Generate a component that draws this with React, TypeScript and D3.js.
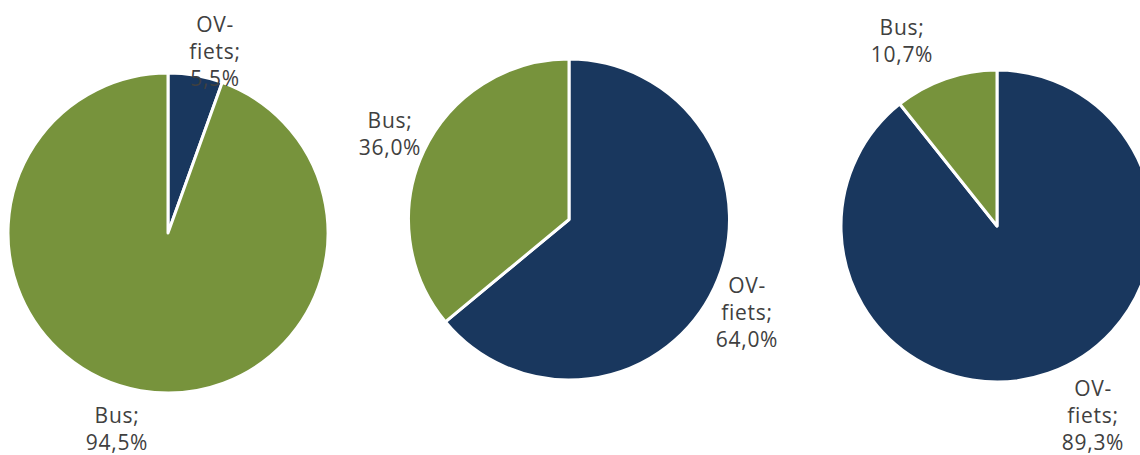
import React from "react";
import * as d3 from "d3";

const categories = ["OV-fiets", "Bus"];
const pie1Values = [5.5, 94.5];
const pie2Values = [64.0, 36.0];
const pie3Values = [89.3, 10.7];

const colors = ["#19375e", "#77933c"];

// layout (not data)
const pies = [
  { values: pie1Values, cx: 168, cy: 233, r: 160, labels: [
    { x: 215, y: 32, lines: ["OV-", "fiets;"] },
    { x: 117, y: 423, lines: ["Bus;"] },
  ] },
  { values: pie2Values, cx: 569, cy: 219.5, r: 160.5, labels: [
    { x: 747, y: 293, lines: ["OV-", "fiets;"] },
    { x: 390, y: 128, lines: ["Bus;"] },
  ] },
  { values: pie3Values, cx: 997, cy: 226, r: 156, labels: [
    { x: 1093, y: 396, lines: ["OV-", "fiets;"] },
    { x: 902, y: 35, lines: ["Bus;"] },
  ] },
];

const fmt = (v: number) => v.toFixed(1).replace(".", ",") + "%";

export default function App() {
  const pieGen = d3.pie<number>().sort(null).value((d) => d);
  return (
    <svg width={1140} height={455} style={{ position: "absolute", left: 0, top: 0, background: "#fff" }}>
      {pies.map((p, i) => {
        const arcs = pieGen(p.values);
        const arc = d3.arc<d3.PieArcDatum<number>>().innerRadius(0).outerRadius(p.r);
        return (
          <g key={i}>
            <g transform={`translate(${p.cx},${p.cy})`}>
              {arcs.map((a, j) => (
                <path key={j} d={arc(a) || ""} fill={colors[j]} stroke="#fff" strokeWidth={3} strokeLinejoin="round">
                  <title>{categories[j]}</title>
                </path>
              ))}
            </g>
            {arcs.map((a, j) => {
              const lab = p.labels[j];
              const lines = [...lab.lines, fmt(p.values[j])];
              return (
                <text key={"t" + j} x={lab.x} y={lab.y} textAnchor="middle" fill="#404040"
                  style={{ fontFamily: "'Open Sans', sans-serif", fontSize: 21, letterSpacing: 0.7 }}>
                  {lines.map((l, k) => (
                    <tspan key={k} x={lab.x} dy={k === 0 ? 0 : 27}>{l}</tspan>
                  ))}
                </text>
              );
            })}
          </g>
        );
      })}
    </svg>
  );
}
